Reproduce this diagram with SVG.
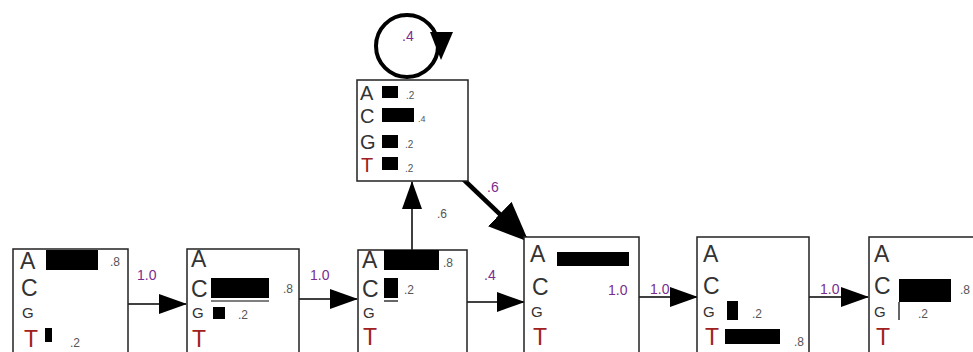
<svg xmlns="http://www.w3.org/2000/svg" width="973" height="352" viewBox="0 0 973 352">
<style>
.box{fill:#fff;stroke:#222;stroke-width:1.5}
.bar{fill:#000}
.L{font-family:"Liberation Sans",Arial,sans-serif;font-size:23px;fill:#333}
.Ls{font-family:"Liberation Sans",Arial,sans-serif;font-size:15px;fill:#333}
.T{fill:#a02020}
.n{font-family:"Liberation Sans",Arial,sans-serif;font-size:12px;fill:#555}
.p{font-family:"Liberation Sans",Arial,sans-serif;font-size:14px;fill:#7a2d8f}
.e{stroke:#000;stroke-width:1.5;fill:none}
.thin{stroke:#000;stroke-width:1.2}
</style>
<defs>
<marker id="ah" markerWidth="28" markerHeight="20" refX="27" refY="10" orient="auto" markerUnits="userSpaceOnUse">
<path d="M0,0 L28,10 L0,20 Z" fill="#000"/>
</marker>
<marker id="ahb" markerWidth="40" markerHeight="34" refX="39" refY="17" orient="auto" markerUnits="userSpaceOnUse">
<path d="M0,0 L40,17 L0,34 Z" fill="#000"/>
</marker>
</defs>
<g id="connectors">
<line class="e" x1="128" y1="304" x2="186" y2="304" marker-end="url(#ah)"/>
<text class="p" x="137" y="280">1.0</text>
<line class="e" x1="299" y1="299" x2="357" y2="299" marker-end="url(#ah)"/>
<text class="p" x="310" y="280">1.0</text>
<line class="e" x1="467" y1="302" x2="524" y2="302" marker-end="url(#ah)"/>
<text class="p" x="484" y="280">.4</text>
<line class="e" x1="412" y1="250" x2="412" y2="182" marker-end="url(#ah)"/>
<text class="n" x="437" y="218">.6</text>
<line stroke="#000" stroke-width="4.5" x1="462" y1="178" x2="528" y2="241" marker-end="url(#ahb)"/>
<text class="p" x="487" y="192">.6</text>
<line class="e" x1="639" y1="297" x2="697" y2="297" marker-end="url(#ah)"/>
<text class="p" x="650" y="294">1.0</text>
<line class="e" x1="809" y1="297" x2="868" y2="297" marker-end="url(#ah)"/>
<text class="p" x="820" y="294">1.0</text>
<circle cx="407" cy="46" r="31" fill="none" stroke="#000" stroke-width="4"/>
<path d="M430,32 L453,32 L441,60 Z" fill="#000"/>
<text class="p" x="402" y="41">.4</text>
</g>
<g id="node-insert">
<rect class="box" x="357" y="80" width="111" height="101"/>
<text class="L" x="360" y="100" style="font-size:20px">A</text>
<rect class="bar" x="382" y="86" width="16" height="12"/>
<text class="n" x="406" y="99" style="font-size:10px">.2</text>
<text class="L" x="360" y="123" style="font-size:20px">C</text>
<rect class="bar" x="382" y="108" width="32" height="14"/>
<text class="n" x="418" y="122" style="font-size:9px">.4</text>
<text class="L" x="360" y="149" style="font-size:20px">G</text>
<rect class="bar" x="382" y="135" width="16" height="13"/>
<text class="n" x="405" y="148" style="font-size:10px">.2</text>
<text class="L T" x="361" y="172" style="font-size:20px">T</text>
<rect class="bar" x="382" y="157" width="16" height="13"/>
<text class="n" x="405" y="172" style="font-size:10px">.2</text>
</g>
<g id="node-1">
<rect class="box" x="13" y="249" width="115" height="110"/>
<text class="L" x="20" y="269">A</text>
<rect class="bar" x="46" y="250" width="52" height="20"/>
<text class="n" x="110" y="266">.8</text>
<text class="L" x="21" y="296">C</text>
<text class="Ls" x="22" y="318">G</text>
<text class="L T" x="24" y="347">T</text>
<rect class="bar" x="45" y="328" width="7" height="14"/>
<text class="n" x="70" y="347">.2</text>
</g>
<g id="node-2">
<rect class="box" x="187" y="249" width="112" height="110"/>
<text class="L" x="191" y="267">A</text>
<text class="L" x="191" y="297">C</text>
<rect class="bar" x="211" y="278" width="58" height="20"/>
<line class="thin" x1="211" y1="301" x2="269" y2="301"/>
<text class="n" x="283" y="293">.8</text>
<text class="Ls" x="192" y="318">G</text>
<rect class="bar" x="213" y="307" width="12" height="12"/>
<text class="n" x="238" y="319">.2</text>
<text class="L T" x="192" y="347">T</text>
</g>
<g id="node-3">
<rect class="box" x="358" y="250" width="109" height="110"/>
<text class="L" x="362" y="268">A</text>
<rect class="bar" x="384" y="250" width="55" height="20"/>
<text class="n" x="443" y="267">.8</text>
<text class="L" x="362" y="297">C</text>
<rect class="bar" x="384" y="278" width="14" height="20"/>
<line class="thin" x1="384" y1="301" x2="398" y2="301"/>
<text class="n" x="404" y="294">.2</text>
<text class="Ls" x="363" y="318">G</text>
<text class="L T" x="363" y="345">T</text>
</g>
<g id="node-4">
<rect class="box" x="524" y="237" width="115" height="122"/>
<text class="L" x="530" y="262">A</text>
<rect class="bar" x="557" y="252" width="72" height="14"/>
<text class="L" x="532" y="295">C</text>
<text class="p" x="608" y="295">1.0</text>
<text class="Ls" x="531" y="317">G</text>
<text class="L T" x="533" y="345">T</text>
</g>
<g id="node-5">
<rect class="box" x="697" y="237" width="112" height="122"/>
<text class="L" x="703" y="262">A</text>
<text class="L" x="703" y="294">C</text>
<text class="Ls" x="703" y="317">G</text>
<rect class="bar" x="727" y="301" width="11" height="19"/>
<text class="n" x="752" y="318">.2</text>
<text class="L T" x="705" y="345">T</text>
<rect class="bar" x="725" y="329" width="55" height="15"/>
<text class="n" x="794" y="346">.8</text>
</g>
<g id="node-6">
<rect class="box" x="869" y="237" width="120" height="122"/>
<text class="L" x="874" y="262">A</text>
<text class="L" x="874" y="294">C</text>
<rect class="bar" x="899" y="279" width="52" height="23"/>
<line class="thin" x1="899" y1="302" x2="899" y2="320"/>
<text class="n" x="960" y="294">.8</text>
<text class="Ls" x="874" y="317">G</text>
<text class="n" x="918" y="318">.2</text>
<text class="L T" x="876" y="345">T</text>
</g>
</svg>
